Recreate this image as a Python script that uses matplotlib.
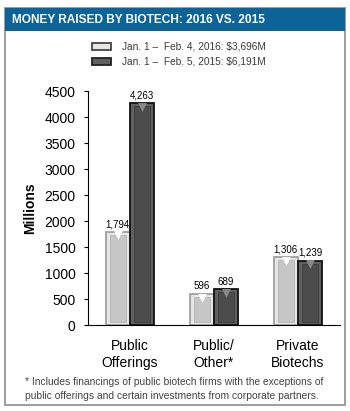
import matplotlib.pyplot as plt
from matplotlib.patches import Rectangle
import numpy as np

categories = ["Public\nOfferings", "Public/\nOther*", "Private\nBiotechs"]
values_2016 = [1794, 596, 1306]
values_2015 = [4263, 689, 1239]
labels_2016 = ["1,794", "596", "1,306"]
labels_2015 = ["4,263", "689", "1,239"]
legend_labels = ["Jan. 1 \u2013  Feb. 4, 2016: $3,696M", "Jan. 1 \u2013  Feb. 5, 2015: $6,191M"]

plt.rcParams["font.family"] = ["Liberation Sans", "DejaVu Sans"]

W, H = 350, 411
fig = plt.figure(figsize=(W / 100, H / 100), dpi=100)

# outer frame + title bar
fig.patches.append(Rectangle((5 / W, 1 - 405 / H), 340 / W, 397 / H, transform=fig.transFigure,
                             fill=False, edgecolor="#8c8c8c", linewidth=1.2))
fig.patches.append(Rectangle((5 / W, 1 - 31 / H), 340 / W, 23 / H, transform=fig.transFigure,
                             facecolor="#0b6397", edgecolor="none"))
fig.text(12 / W, 1 - 20 / H, "MONEY RAISED BY BIOTECH: 2016 VS. 2015", color="white",
         fontsize=8.6, fontweight="bold", va="center", ha="left")

ax = fig.add_axes([88 / W, 1 - 325 / H, 252 / W, 234 / H])
x = np.arange(len(categories))
w = 0.29

light_edge, light_face, light_in = "#a0a0a0", "#e6e6e6", "#c6c6c6"
dark_edge, dark_face, dark_in = "#111111", "#606060", "#4c4c4c"

ax.bar(x - w / 2, values_2016, w, color=light_face, edgecolor=light_edge, linewidth=1.3, zorder=2)
ax.bar(x + w / 2, values_2015, w, color=dark_face, edgecolor=dark_edge, linewidth=1.3, zorder=2)
# inner bevel
inset = 60
ax.bar(x - w / 2, np.array(values_2016) - 2 * inset, w * 0.68, bottom=inset, color=light_in,
       edgecolor="#b4b4b4", linewidth=0.6, zorder=3)
ax.bar(x + w / 2, np.array(values_2015) - 2 * inset, w * 0.68, bottom=inset, color=dark_in,
       edgecolor="#3c3c3c", linewidth=0.6, zorder=3)
# highlight at the top of each bar
ax.scatter(x - w / 2, np.array(values_2016) - inset - 10, marker="v", s=40, color="white",
           linewidths=0, zorder=4)
ax.scatter(x + w / 2, np.array(values_2015) - inset - 10, marker="v", s=40, color="#8a8a8a",
           linewidths=0, zorder=4)

for i in range(len(categories)):
    ax.text(x[i] - w / 2, values_2016[i] + 50, labels_2016[i], ha="center", va="bottom", fontsize=7)
    ax.text(x[i] + w / 2, values_2015[i] + 50, labels_2015[i], ha="center", va="bottom", fontsize=7)

ax.set_xlim(-0.5, 2.5)
ax.set_ylim(0, 4500)
ax.set_yticks(range(0, 4501, 500))
ax.tick_params(axis="y", labelsize=10, length=3, width=0.8, pad=6)
ax.tick_params(axis="x", length=0, labelsize=10, pad=10)
ax.set_xticks(x)
ax.set_xticklabels(categories, linespacing=1.3)
for s in ["top", "right"]:
    ax.spines[s].set_visible(False)
ax.spines["left"].set_linewidth(0.8)
ax.spines["bottom"].set_linewidth(0.8)
ax.set_ylabel("Millions", fontsize=10, fontweight="bold", labelpad=5)

# legend drawn as patches
for k, (fc, ec) in enumerate([(light_face, "#444444"), (dark_face, "#222222")]):
    y0 = 1 - (50 + k * 15) / H
    fig.patches.append(Rectangle((92 / W, y0), 19 / W, 7 / H, transform=fig.transFigure,
                                 facecolor=fc, edgecolor=ec, linewidth=1.3))
    fig.text(122 / W, y0 + 3.5 / H, legend_labels[k], fontsize=7.3, color="#3c3c3c", va="center")

fig.text(25 / W, 1 - 389 / H,
         "* Includes financings of public biotech firms with the exceptions of\n"
         "public offerings and certain investments from corporate partners.",
         fontsize=7.4, color="#444444", va="center", linespacing=1.45)

fig.savefig("out.png", dpi=100)
